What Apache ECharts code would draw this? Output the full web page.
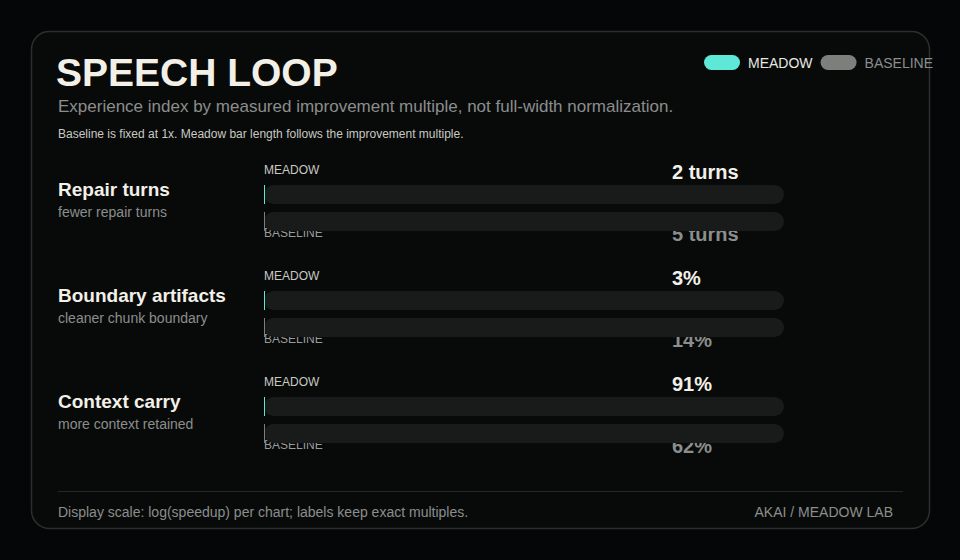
<!DOCTYPE html>
<html>
<head>
<meta charset="utf-8">
<style>
  html, body { margin: 0; padding: 0; background: #050607; }
  #chart { width: 960px; height: 560px; }
</style>
<script src="https://cdn.jsdelivr.net/npm/echarts@6/dist/echarts.min.js"></script>
</head>
<body>
<div id="chart"></div>
<script>
// rows of the chart
var rowNames = ['Repair turns', 'Boundary artifacts', 'Context carry'];
var rowNotes = ['fewer repair turns', 'cleaner chunk boundary', 'more context retained'];
var meadowLabels = ['2 turns', '3%', '91%'];
var baselineLabels = ['5 turns', '14%', '62%'];
// bar length as drawn (display scale)
var meadowShown = [0, 0, 0];
var baselineShown = [0, 0, 0];

var FONT = '"Liberation Sans", Arial, sans-serif';
var CYAN = '#5ee8d8';
var GREY = '#7d7f7d';

var chart = echarts.init(document.getElementById('chart'), null, { renderer: 'svg' });

var grids = [], xAxes = [], yAxes = [], series = [];
var texts = [];

function txt(x, y, s, size, color, weight, align, z) {
    texts.push({
        type: 'text', x: x, y: y, z: z || 1, silent: true,
        style: {
            text: s, fill: color, fontSize: size, fontFamily: FONT,
            fontWeight: weight || 'normal', textAlign: align || 'left', textVerticalAlign: 'middle'
        }
    });
}

rowNames.forEach(function(name, i) {
    var top = 185 + 106 * i;
    grids.push({ left: 264, width: 520, top: top, height: 46 });
    xAxes.push({ gridIndex: i, type: 'value', min: 0, max: 1, show: false });
    yAxes.push({ gridIndex: i, type: 'category', data: [name], inverse: true, show: false });
    series.push({
        name: 'MEADOW', type: 'bar', xAxisIndex: i, yAxisIndex: i,
        data: [meadowShown[i]], barWidth: 19, barGap: '42%', barMinHeight: 1,
        itemStyle: { color: CYAN },
        showBackground: true,
        backgroundStyle: { color: '#191a1a', borderRadius: 9.5 },
        silent: true
    });
    series.push({
        name: 'BASELINE', type: 'bar', xAxisIndex: i, yAxisIndex: i,
        data: [baselineShown[i]], barWidth: 19, barGap: '42%', barMinHeight: 1,
        itemStyle: { color: GREY },
        showBackground: true,
        backgroundStyle: { color: '#191a1a', borderRadius: 9.5 },
        silent: true
    });

    txt(58, top + 4, name, 19, '#f3f0e8', 'bold');
    txt(58, top + 27, rowNotes[i], 14, '#8b8e8c');
    txt(264, top - 15, 'MEADOW', 12, '#c9c9c2');
    txt(264, top + 48, 'BASELINE', 12, '#9a9c9a');
    txt(672, top - 13, meadowLabels[i], 20, '#f3f0e8', 'bold');
    txt(672, top + 49, baselineLabels[i], 20, '#8b8e8c', 'bold');
});

var graphic = [
    {
        type: 'rect', z: 0, silent: true,
        shape: { x: 31.5, y: 31.5, width: 898, height: 497, r: 18 },
        style: { fill: '#080a0a', stroke: '#2c2f2f', lineWidth: 1.5 }
    },
    {
        type: 'line', z: 1, silent: true,
        shape: { x1: 58, y1: 491.5, x2: 903, y2: 491.5 },
        style: { stroke: '#242727', lineWidth: 1 }
    }
];
txt(56, 72, 'SPEECH LOOP', 39, '#f3f0e8', 'bold');
txt(58, 106, 'Experience index by measured improvement multiple, not full-width normalization.', 17, '#8b8e8c');
txt(58, 134, 'Baseline is fixed at 1x. Meadow bar length follows the improvement multiple.', 12, '#c9c9c2');
txt(58, 512, 'Display scale: log(speedup) per chart; labels keep exact multiples.', 14, '#8b8e8c');
txt(893, 512, 'AKAI / MEADOW LAB', 14, '#8b8e8c', 'normal', 'right');

chart.setOption({
    backgroundColor: '#050607',
    animation: false,
    legend: {
        left: 699, top: 50,
        itemWidth: 36, itemHeight: 15, itemGap: 8,
        icon: 'path://M7.5,0 H28.5 A7.5,7.5 0 0 1 28.5,15 H7.5 A7.5,7.5 0 0 1 7.5,0 Z',
        selectedMode: false,
        textStyle: { fontFamily: FONT, fontSize: 14, padding: [0, 0, 5, 3] },
        data: [
            { name: 'MEADOW', textStyle: { color: '#e8e8e0' } },
            { name: 'BASELINE', textStyle: { color: '#8b8e8c' } }
        ]
    },
    grid: grids,
    xAxis: xAxes,
    yAxis: yAxes,
    series: series,
    graphic: graphic.concat(texts)
});
</script>
</body>
</html>
